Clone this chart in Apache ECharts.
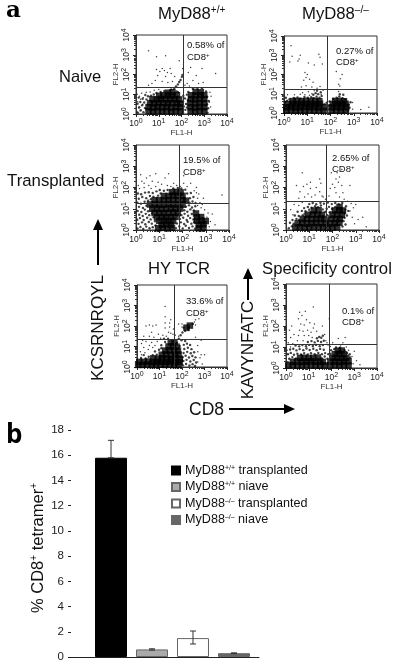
<!DOCTYPE html>
<html>
<head>
<meta charset="utf-8">
<style>html,body{margin:0;background:#fff}#chart{width:416px;height:670px}</style>
<script src="https://cdn.jsdelivr.net/npm/echarts@6/dist/echarts.min.js"></script>
</head>
<body>
<div id="chart"></div>
<script>
// flow panels, every point is [log10 FL1, log10 FL2]
const naiveWtDense = [[.55,.15],[.75,.12],[.95,.16],[1.15,.13],[1.35,.15],[1.55,.12],[1.75,.15],[1.95,.14],[2.4,.15],[2.6,.12],[2.8,.16],[3,.14],[.55,.35],[.75,.33],[.95,.36],[1.15,.34],[1.35,.36],[1.55,.33],[1.75,.35],[1.95,.34],[2.4,.35],[2.6,.33],[2.8,.36],[3,.34],[.62,.55],[.8,.54],[1,.56],[1.2,.55],[1.4,.54],[1.6,.56],[1.8,.55],[1.95,.52],[2.38,.55],[2.6,.54],[2.8,.56],[3,.55],[.72,.75],[.92,.74],[1.1,.76],[1.3,.75],[1.5,.74],[1.7,.76],[1.9,.74],[2.42,.75],[2.6,.74],[2.8,.76],[3,.75],[1.02,.92],[1.2,.95],[1.4,.96],[1.6,.94],[1.8,.95],[2.42,.95],[2.62,.94],[2.82,.96],[3,.95],[1.4,1.08],[1.6,1.1],[2.62,1.12],[2.85,1.1]]
const naiveWtMid = [[.08,.06],[.2,.18],[.33,.09],[.14,.34],[.27,.44],[.39,.3],[.07,.52],[.19,.61],[.36,.58],[.46,.74],[.29,.77],[.12,.83],[.53,.9],[.41,.96],[.66,.93],[.78,.99],[.9,1.06],[1.08,1.12],[1.24,1.16],[1.78,1.14],[1.85,1.1],[2.06,.09],[2.17,.21],[2.1,.38],[2.24,.33],[2.07,.62],[2.2,.51],[2.15,.79],[2.28,.72],[2.08,.93],[2.24,.98],[2.3,1.12],[3.14,.07],[3.17,.29],[3.12,.49],[3.2,.66],[3.13,.87],[3.08,1.14],[2.5,1.28],[2.7,1.26],[2.9,1.3],[1.55,1.24],[1.68,1.29],[1.76,1.4],[1.84,1.5],[1.9,1.62],[1.96,1.72],[2.02,1.88],[2.04,1.98]]
const naiveWtDots = [[.05,.1],[.12,.3],[.22,.2],[.3,.5],[.08,.62],[.2,.75],[.15,.9],[.32,.82],[.05,1],[.25,1.05],[.45,1.1],[.62,1.12],[.8,1.2],[1,1.24],[3.22,.6],[3.28,.35],[3.3,.9],[3.25,1.1],[.7,1.55],[.85,1.7],[.95,1.95],[1.05,2.15],[1.15,2.3],[1.25,2.2],[1.38,2.1],[1.5,2.3],[1.55,2.05],[1.3,1.9],[1.15,1.65],[.9,2.25],[1.4,1.6],[.55,1.45],[2.25,1.55],[2.3,2.1],[2.4,2.35],[2.5,1.7],[2.65,1.95],[2.75,1.55],[2.95,1.6],[3.5,2.05],[2.9,2.3],[.55,3.2],[.9,2.9],[1.3,2.95],[1.9,2.7],[2.05,2.3],[1.7,1.9],[1.6,1.65],[2.15,1.45],[2.35,1.42]]
const naiveKoDense = [[.1,.12],[.3,.14],[.5,.11],[.7,.13],[.9,.12],[1.1,.14],[1.3,.12],[1.5,.13],[1.7,.11],[.1,.3],[.3,.31],[.5,.29],[.7,.3],[.9,.32],[1.1,.3],[1.3,.31],[1.5,.29],[1.72,.3],[.15,.47],[.35,.48],[.55,.46],[.75,.48],[.95,.47],[1.15,.48],[1.35,.46],[1.55,.48],[.38,.62],[.55,.63],[.75,.61],[.95,.63],[1.15,.62],[1.35,.63],[1.52,.61],[2.05,.12],[2.25,.13],[2.45,.11],[2.65,.13],[2.05,.3],[2.25,.31],[2.45,.29],[2.68,.3],[2.1,.47],[2.3,.48],[2.5,.46],[2.65,.48],[2.2,.62],[2.4,.63],[2.58,.61]]
const naiveKoMid = [[.04,.56],[.13,.64],[.24,.72],[.08,.79],[.42,.78],[.58,.81],[.72,.76],[.88,.83],[1.02,.79],[1.17,.82],[1.28,.77],[1.4,.85],[1.53,.79],[1.62,.88],[1.26,.95],[1.36,1.03],[1.47,.98],[1.58,1.08],[1.42,1.16],[1.74,.46],[1.86,.18],[1.93,.38],[1.83,.53],[1.96,.6],[2.12,.74],[2.26,.79],[2.38,.86],[2.52,.77],[2.63,.72],[2.76,.1],[2.82,.27],[2.78,.44],[2.86,.56],[2.4,.98],[2.55,.95]]
const naiveKoDots = [[1.3,1.15],[1.6,.98],[1.2,1],[1.1,.92],[.9,.95],[.7,.98],[.45,.95],[.15,.95],[.8,1.05],[1.05,1.1],[1.68,1.18],[1.42,1.28],[.75,1.35],[.95,1.42],[1.2,1.35],[1.55,1.38],[.85,1.7],[.95,1.85],[1,2],[.9,2.1],[1.1,1.75],[1.25,1.6],[.25,2.65],[.35,2.95],[.6,2.7],[.7,3],[.65,2.8],[1.05,2.6],[1.3,2.5],[1.5,3.05],[1.55,2.9],[.3,3.5],[1.65,2.55],[2.35,1.12],[2.4,1.4],[2.5,2],[2.42,1.78],[2.35,1.5],[2.25,2.15],[2.95,.2],[3.3,.18],[3.65,.3],[2.95,.55]]
const transplantedWtDense = [[.95,.08],[1.15,.1],[1.35,.07],[1.55,.1],[2.7,.08],[2.9,.1],[1.1,.25],[1.3,.27],[1.5,.25],[2.7,.25],[2.9,.27],[1,.43],[1.2,.44],[1.4,.42],[1.6,.43],[2.62,.43],[2.82,.44],[3,.42],[.9,.6],[1.1,.61],[1.3,.59],[1.5,.6],[1.7,.62],[2.62,.6],[2.8,.61],[.8,.8],[1,.81],[1.2,.79],[1.4,.8],[1.6,.82],[1.8,.8],[2.58,.78],[.7,1],[.9,1.01],[1.1,.99],[1.3,1],[1.5,1.02],[1.7,1],[1.9,1.01],[.6,1.2],[.8,1.21],[1,1.19],[1.2,1.2],[1.4,1.22],[1.6,1.2],[1.8,1.21],[2,1.19],[.8,1.4],[1,1.41],[1.2,1.39],[1.4,1.4],[1.6,1.42],[1.8,1.4],[2,1.41],[2.15,1.38],[1.2,1.6],[1.4,1.6],[1.6,1.62],[1.8,1.6],[2,1.61],[1.55,1.78],[1.75,1.79],[1.92,1.77]]
const transplantedWtMid = [[.06,.07],[.19,.14],[.31,.05],[.44,.16],[.58,.08],[.72,.13],[.84,.22],[1.72,.09],[1.86,.17],[2.01,.07],[2.14,.2],[2.28,.1],[2.43,.17],[2.54,.06],[.11,.29],[.26,.36],[.4,.27],[.55,.38],[.68,.3],[.82,.41],[1.76,.31],[1.93,.36],[2.07,.28],[2.22,.39],[2.38,.3],[2.5,.37],[.05,.48],[.17,.56],[.33,.47],[.48,.58],[.63,.5],[.76,.6],[1.89,.52],[2.03,.58],[2.18,.47],[2.33,.56],[2.47,.5],[.14,.72],[.29,.66],[.42,.76],[.57,.7],[.69,.78],[1.95,.7],[2.09,.76],[2.24,.67],[2.4,.75],[.07,.9],[.23,.85],[.38,.96],[.52,.88],[2.08,.93],[2.21,.86],[2.34,.97],[2.49,.92],[.13,1.09],[.3,1.04],[.45,1.14],[2.15,1.1],[2.28,1.16],[2.41,1.06],[2.55,1.12],[.06,1.28],[.21,1.24],[.37,1.33],[.52,1.38],[.64,1.45],[2.3,1.28],[2.43,1.34],[2.56,1.27],[.12,1.47],[.27,1.55],[.44,1.5],[.6,1.6],[.75,1.57],[.95,1.62],[1.06,1.72],[2.32,1.5],[2.47,1.55],[.08,1.72],[.22,1.68],[.39,1.76],[.55,1.78],[.72,1.74],[.88,1.82],[1.02,1.88],[1.2,1.85],[1.36,1.88],[2.2,1.72],[2.36,1.74],[2.12,1.9],[1.6,1.96],[1.8,1.98],[1.95,1.95]]
const transplantedWtDots = [[.15,1.95],[.35,2],[.55,2.1],[.25,2.3],[.45,2.45],[.2,2.6],[.6,2.55],[.7,2.3],[.85,2.05],[.95,2.25],[1.1,2.15],[1.35,2.1],[1.25,2.45],[1.5,2.05],[1.62,2.2],[1.75,2.1],[1.4,2.65],[.85,2.65],[1.9,2.05],[2.05,2.2],[2.2,2.05],[2.35,2.2],[2.5,1.85],[2.6,2],[2.7,1.7],[2.65,1.5],[2.75,1.3],[2.65,1.15],[2.85,1.2],[2.8,1.05],[2.95,.95],[3.1,.8],[3.05,.6],[3.2,.4],[3.15,.15],[3.28,.75],[3.4,.25],[2.9,1.5],[3.7,1.65],[2.05,2.55],[2.6,1.75],[.1,2.1],[.35,2.2],[.65,1.95]]
const transplantedKoDense = [[.4,.12],[.6,.13],[.8,.11],[1,.12],[1.2,.14],[1.4,.12],[1.6,.13],[1.8,.11],[2,.12],[2.2,.14],[.5,.32],[.7,.33],[.9,.31],[1.1,.32],[1.3,.34],[1.5,.32],[1.7,.33],[1.9,.31],[2.1,.32],[2.3,.34],[.72,.52],[.9,.53],[1.1,.51],[1.3,.52],[1.5,.54],[1.65,.52],[1.95,.53],[2.15,.51],[2.32,.52],[.95,.72],[1.15,.73],[1.35,.71],[1.55,.72],[2,.72],[2.2,.73],[2.4,.71],[1.2,.92],[1.4,.93],[2.1,.92],[2.3,.94],[2.45,.92],[2.3,1.08]]
const transplantedKoMid = [[.12,.08],[.25,.17],[.17,.34],[.33,.3],[.28,.47],[.45,.52],[.56,.47],[.38,.68],[.55,.66],[.72,.7],[.8,.77],[.5,.86],[.68,.9],[.84,.88],[1,.95],[.78,1.03],[.94,1.08],[1.1,1.05],[1.25,1.12],[1.38,1.07],[1.5,1.15],[1.58,.97],[1.7,.86],[1.78,.7],[1.82,.54],[1.75,1],[1.88,.83],[1.85,1.09],[1.98,1],[2.12,1.08],[1,1.22],[1.15,1.27],[1.3,1.21],[1.48,1.28],[1.63,1.24],[1.8,1.29],[1.97,1.22],[2.12,1.27],[2.27,1.22],[2.42,1.27],[2.55,.96],[2.58,1.12],[2.53,.78],[2.62,.68],[2.52,.58],[2.48,.42],[2.43,.16],[2.56,.26],[2.68,.9]]
const transplantedKoDots = [[.3,.72],[.2,.95],[.55,1.15],[.35,1.2],[.7,1.3],[.8,1.55],[.55,1.5],[.6,1.8],[.95,1.7],[1.1,1.55],[1.25,1.65],[1.05,1.95],[.9,2.15],[1.05,2.25],[.75,2.05],[.45,2.1],[1.3,2],[1.45,1.8],[1.6,1.55],[1.5,2.2],[1.45,2.4],[1.55,1.6],[.7,2.7],[1.7,1.45],[1.85,1.6],[1.9,1.95],[2,2.15],[2.15,2.4],[2.3,2.5],[2.25,2.25],[2.1,2],[2.15,1.75],[2.3,1.55],[2.45,1.75],[2.4,2.1],[2.5,1.45],[2.65,1.35],[2.8,1.25],[2.9,1.05],[2.75,.9],[2.85,.6],[2.95,.3],[3,1.2],[1.95,2.7],[2.4,2.85],[2.2,2.7],[3.1,.5],[3.45,.15],[3.3,.6],[2.75,2.1]]
const hyTcrDense = [[.05,.1],[.25,.1],[.45,.12],[.65,.09],[.85,.1],[1.05,.11],[1.25,.1],[1.45,.12],[1.65,.09],[1.85,.1],[.1,.25],[.3,.25],[.5,.27],[.7,.24],[.9,.25],[1.1,.26],[1.3,.25],[1.5,.27],[1.7,.24],[1.9,.25],[.72,.42],[.92,.4],[1.12,.42],[1.32,.41],[1.52,.4],[1.72,.42],[1.9,.4],[1.1,.6],[1.3,.61],[1.5,.59],[1.7,.6],[1.85,.61],[1.25,.8],[1.45,.81],[1.65,.79],[1.82,.8],[1.4,1],[1.6,1.01],[1.76,.99],[1.5,1.2],[1.66,1.21],[2.2,1.92],[2.35,2.02]]
const hyTcrMid = [[2.04,.08],[2.18,.15],[2.33,.07],[2.47,.14],[2.58,.05],[2.06,.29],[2.2,.35],[2.37,.27],[2.52,.34],[2.63,.22],[2.03,.48],[2.16,.55],[2.31,.46],[2.46,.54],[2.6,.47],[2.07,.68],[2.23,.74],[2.39,.67],[2.54,.72],[2.1,.88],[2.26,.94],[2.42,.87],[2.08,1.08],[2.22,1.14],[2.36,1.07],[1.98,1.3],[2.14,1.27],[1.25,1.22],[1.08,1.06],[1.2,1.38],[1.38,1.38],[1.78,1.18],[1.9,1.03],[1.86,1.38],[1.94,1.55],[2.02,1.68],[2.14,1.76],[2.28,1.8],[2.08,1.92],[2.48,2.1],[2.3,1.92],[.38,.42],[.52,.5],[.7,.58],[.88,.6],[.8,.76],[.98,.84],[1.08,.92],[.18,.44],[.3,.58]]
const hyTcrDots = [[.2,.6],[.15,.75],[.35,.7],[.5,.85],[.3,.95],[.55,1.05],[.7,.95],[.2,1.15],[.4,1.25],[.65,1.2],[.9,1.25],[.8,1.05],[.3,1.5],[.55,1.5],[.75,1.45],[.95,1.6],[1.05,1.4],[.65,1.7],[.4,2],[.55,2.05],[.7,2],[.85,2.05],[.25,1.3],[1.15,1.55],[1.3,1.5],[1.4,1.7],[1.25,1.9],[1.5,1.65],[1.45,1.95],[1.6,1.6],[1.25,2.15],[1.45,2.15],[1.25,2.45],[1.25,2.95],[1.5,2.3],[1.62,1.85],[1.7,1.55],[1.85,1.5],[2.55,2.2],[2.6,2.3],[2.75,2.35],[2.6,2.05],[2,1.95],[2.7,.75],[2.7,.25],[2.8,.45],[2.85,.6],[2.9,.15],[3,.6],[2.7,1.05],[2.85,1.3],[2.6,1.45],[2,2.1],[1.85,2.1]]
const specCtrlDense = [[.1,.12],[.3,.13],[.5,.11],[.7,.12],[.9,.14],[1.1,.12],[1.3,.13],[1.5,.11],[1.7,.12],[1.95,.12],[2.15,.14],[2.35,.12],[2.55,.13],[2.75,.12],[.3,.3],[.5,.31],[.7,.29],[.9,.3],[1.1,.32],[1.3,.3],[1.5,.31],[1.62,.29],[1.95,.3],[2.15,.31],[2.35,.29],[2.55,.3],[2.75,.32],[.62,.48],[.8,.49],[1,.47],[1.2,.48],[1.4,.5],[2.05,.48],[2.25,.49],[2.45,.47],[2.65,.48],[2.15,.66],[2.35,.67],[2.55,.65],[2.28,.82],[2.45,.83]]
const specCtrlMid = [[.08,.28],[.14,.44],[.28,.52],[.44,.46],[1.56,.48],[1.7,.55],[1.82,.44],[1.82,.2],[.08,.66],[.21,.72],[.35,.63],[.5,.68],[.66,.64],[.8,.71],[.96,.65],[1.1,.7],[1.26,.66],[1.42,.72],[1.58,.66],[1.72,.71],[1.86,.66],[.18,.88],[.32,.92],[.46,.84],[.6,.9],[.76,.85],[.9,.93],[1.04,.86],[1.2,.92],[1.35,.85],[1.5,.91],[1.66,.87],[1.96,.68],[.42,1.07],[.58,1.03],[.72,1.09],[.88,1.04],[1.02,1.1],[1.18,1.05],[1.32,1.1],[1.48,1.04],[1.62,1.09],[.96,1.24],[1.12,1.28],[1.26,1.22],[1.4,1.29],[1.54,1.24],[1.66,1.3],[1.36,1.42],[1.46,1.48],[1.55,1.44],[1.62,1.54],[1.98,.85],[2.12,.9],[2.58,.84],[2.82,.5],[2.8,.66],[2.68,.72],[2.2,.98],[2.38,.98]]
const specCtrlDots = [[.1,.65],[.05,.85],[.2,1],[.1,1.2],[.3,1.15],[.5,1.3],[.75,1.3],[.2,1.45],[.35,1.6],[.15,1.8],[.25,2],[.55,1.55],[.8,1.55],[1,1.55],[1.15,1.45],[.6,1.8],[.75,1.75],[.95,1.8],[1.1,1.7],[.65,2.1],[.8,2.05],[.9,2.3],[.55,2.35],[.7,2.5],[.6,2.65],[.85,2.7],[1.05,2.15],[1.2,1.9],[1.35,1.75],[1.25,2.1],[1.2,2.9],[1.6,2],[1.75,1.3],[1.85,1.1],[1.95,1.02],[2.05,1.2],[2.4,1.1],[2.5,1.2],[2.65,1],[2.75,.85],[2.9,.55],[2.95,.2],[3,.8],[3.1,.35],[3.25,.15],[1.9,2.35],[2.3,1.4],[2.6,1.45],[1.7,1.6],[1.8,1.2]]

const panelDense = [naiveWtDense, naiveKoDense, transplantedWtDense, transplantedKoDense, hyTcrDense, specCtrlDense]
const panelMid = [naiveWtMid, naiveKoMid, transplantedWtMid, transplantedKoMid, hyTcrMid, specCtrlMid]
const panelDots = [naiveWtDots, naiveKoDots, transplantedWtDots, transplantedKoDots, hyTcrDots, specCtrlDots]
const gateX = [2.07, 1.85, 1.85, 1.72, 1.64, 1.89]
const gateY = [1.37, 1.25, 1.27, 1.36, 1.37, 1.14]
const logTicks = [0, 1, 2, 3, 4]

// panel b
const groups = ['MyD88+/+ transplanted', 'MyD88+/+ niave', 'MyD88–/– transplanted', 'MyD88–/– niave']
const groupValues = [15.8, 0.6, 1.5, 0.3]
const errLow = [15.8, 0.55, 1.03, 0.27]
const errHigh = [17.18, 0.65, 2.06, 0.33]
const groupColors = ['#000', '#aaa', '#fff', '#666']

const boxes = [[136, 35, 91, 79], [284, 36, 93, 77], [136, 145, 93, 85], [286, 145, 93, 85], [137, 285, 90, 82], [286, 284, 91, 84]]

const FONT = '"Liberation Sans", Arial, sans-serif'
const INK = '#111'
const chart = echarts.init(document.getElementById('chart'), null, { renderer: 'canvas' })

const minorTicks = []
logTicks.slice(0, 4).forEach(d => {
  for (let k = 2; k < 10; k++) minorTicks.push(d + Math.log10(k))
})

const sup = { b: { fontSize: 8.5, fontFamily: FONT, color: '#222' }, e: { fontSize: 7, fontFamily: FONT, color: '#222', padding: [0, 0, 4, 0] } }

const grids = []
const xAxes = []
const yAxes = []
const series = []

boxes.forEach((b, i) => {
  grids.push({ left: b[0], top: b[1], width: b[2], height: b[3], show: true, borderColor: '#333', borderWidth: 1, backgroundColor: '#fff' })
  const base = {
    gridIndex: i, type: 'value', min: 0, max: 4, interval: 1, splitLine: { show: false },
    axisLine: { lineStyle: { color: '#333' } }
  }
  xAxes.push({
    ...base, position: 'bottom', name: 'FL1-H', nameLocation: 'middle', nameGap: 15,
    nameTextStyle: { fontSize: 8, fontFamily: FONT, color: '#333' },
    axisTick: { length: 3, lineStyle: { color: '#222' } },
    axisLabel: { margin: 4, rich: sup, formatter: v => `{b|10}{e|${v}}` }
  })
  yAxes.push({
    ...base, position: 'left', name: 'FL2-H', nameLocation: 'middle', nameGap: 14,
    nameTextStyle: { fontSize: 8, fontFamily: FONT, color: '#333' },
    axisTick: { length: 3, lineStyle: { color: '#222' } },
    axisLabel: { margin: 4, rotate: 90, rich: sup, formatter: v => `{b|10}{e|${v}}` }
  })
  series.push(
    { type: 'scatter', xAxisIndex: i, yAxisIndex: i, data: panelMid[i], symbolSize: 2.4, itemStyle: { color: '#111' }, silent: true },
    { type: 'scatter', xAxisIndex: i, yAxisIndex: i, data: panelDense[i], symbol: 'rect', symbolSize: 6.5, itemStyle: { color: '#000' }, silent: true },
    {
      type: 'scatter', xAxisIndex: i, yAxisIndex: i, data: panelDots[i], symbolSize: 1.5, itemStyle: { color: '#111' }, silent: true,
      markLine: {
        silent: true, symbol: 'none', label: { show: false }, animation: false,
        lineStyle: { color: '#333', width: 1, type: 'solid' },
        data: [{ xAxis: gateX[i] }, { yAxis: gateY[i] }]
      }
    }
  )
})

// minor decade ticks sit on their own axes so they can be shorter
boxes.forEach((b, i) => {
  const minor = {
    gridIndex: i, type: 'value', min: 0, max: 4, splitLine: { show: false }, axisLabel: { show: false },
    axisLine: { show: false }, axisTick: { length: 2, customValues: minorTicks, lineStyle: { color: '#333' } }
  }
  xAxes.push({ ...minor, position: 'bottom' })
  yAxes.push({ ...minor, position: 'left' })
})

// bar chart grid
const barGrid = boxes.length
const barAxisX = xAxes.length
const barAxisY = yAxes.length
grids.push({ left: 71, top: 430, width: 188, height: 227 })
xAxes.push({
  gridIndex: barGrid, type: 'value', min: 0.024, max: 4.61, position: 'bottom',
  axisLabel: { show: false }, axisTick: { show: false }, splitLine: { show: false },
  axisLine: { onZero: false, lineStyle: { color: '#222' } }
})
yAxes.push({
  gridIndex: barGrid, type: 'value', min: 0, max: 18, interval: 2, position: 'left', splitLine: { show: false },
  axisLine: { show: false }, axisTick: { length: 3, lineStyle: { color: '#222' } },
  axisLabel: { fontSize: 11.5, fontFamily: FONT, color: '#222', margin: 7 }
})

groups.forEach((name, i) => {
  series.push({
    type: 'bar', name, xAxisIndex: barAxisX, yAxisIndex: barAxisY, barWidth: 32, barGap: '-100%',
    data: [[i + 1, groupValues[i]]], silent: true,
    itemStyle: { color: groupColors[i], borderColor: i === 0 ? '#000' : '#666', borderWidth: 1 }
  })
})
series.push({
  type: 'custom', xAxisIndex: barAxisX, yAxisIndex: barAxisY, silent: true, z: 5,
  data: groups.map((g, i) => [i + 1, errLow[i], errHigh[i]]),
  renderItem: (params, api) => {
    const lo = api.coord([api.value(0), api.value(1)])
    const hi = api.coord([api.value(0), api.value(2)])
    const style = { stroke: '#333', lineWidth: 1 }
    return {
      type: 'group',
      children: [
        { type: 'line', shape: { x1: lo[0], y1: lo[1], x2: hi[0], y2: hi[1] }, style },
        { type: 'line', shape: { x1: lo[0] - 3, y1: lo[1], x2: lo[0] + 3, y2: lo[1] }, style },
        { type: 'line', shape: { x1: hi[0] - 3, y1: hi[1], x2: hi[0] + 3, y2: hi[1] }, style }
      ]
    }
  }
})

// text and arrows around the panels
const supRich = size => ({
  t: { fontSize: size, fontFamily: FONT, fill: INK },
  s: { fontSize: Math.round(size * 0.58), fontFamily: FONT, fill: INK, padding: [0, 0, Math.round(size * 0.4), 0] }
})
const txt = (x, y, text, size, rotation = 0, align = 'left') => ({
  type: 'text', x, y, rotation, silent: true,
  style: { text, fontSize: size, fontFamily: FONT, fill: INK, align, verticalAlign: 'middle', rich: supRich(size) }
})
const arrowUp = (x, top, bottom) => [
  { type: 'polygon', silent: true, shape: { points: [[x, top], [x - 5, top + 11], [x + 5, top + 11]] }, style: { fill: '#000' } },
  { type: 'line', silent: true, shape: { x1: x, y1: top + 10, x2: x, y2: bottom }, style: { stroke: '#000', lineWidth: 2 } }
]

const graphic = [
  { type: 'text', x: 6, y: 11, silent: true, style: { text: 'a', fontSize: 23, fontWeight: 'bold', fontFamily: '"DejaVu Serif"', fill: '#000', verticalAlign: 'middle' } },
  { type: 'text', x: 6, y: 436, silent: true, style: { text: 'b', fontSize: 26, fontWeight: 'bold', fontFamily: '"Open Sans"', fill: '#000', verticalAlign: 'middle' } },
  txt(158, 14, '{t|MyD88}{s|+/+}', 16.7),
  txt(302, 14, '{t|MyD88}{s|–/–}', 16.7),
  txt(59, 77, '{t|Naive}', 16.5),
  txt(7, 181, '{t|Transplanted}', 16.8),
  txt(148, 269, '{t|HY TCR}', 16.7),
  txt(262, 269, '{t|Specificity control}', 16.7),
  txt(187, 45, '{t|0.58% of}', 9.5), txt(187, 57, '{t|CD8}{s|+}', 9.5),
  txt(336, 51, '{t|0.27% of}', 9.5), txt(336, 62, '{t|CD8}{s|+}', 9.5),
  txt(183, 160, '{t|19.5% of}', 9.5), txt(183, 172, '{t|CD8}{s|+}', 9.5),
  txt(332, 158, '{t|2.65% of}', 9.5), txt(332, 169, '{t|CD8}{s|+}', 9.5),
  txt(186, 301, '{t|33.6% of}', 9.5), txt(186, 313, '{t|CD8}{s|+}', 9.5),
  txt(342, 311, '{t|0.1% of}', 9.5), txt(342, 322, '{t|CD8}{s|+}', 9.5),
  txt(98, 328, '{t|KCSRNRQYL}', 17, Math.PI / 2, 'center'),
  txt(248, 350, '{t|KAVYNFATC}', 17, Math.PI / 2, 'center'),
  txt(189, 410, '{t|CD8}', 17.5),
  txt(38, 548, '{t|% CD8}{s|+}{t| tetramer}{s|+}', 16.5, Math.PI / 2, 'center'),
  ...arrowUp(98, 219, 265),
  ...arrowUp(248, 268, 300),
  { type: 'polygon', silent: true, shape: { points: [[295, 409], [284, 404], [284, 414]] }, style: { fill: '#000' } },
  { type: 'line', silent: true, shape: { x1: 229, y1: 409, x2: 285, y2: 409 }, style: { stroke: '#000', lineWidth: 2 } }
]

chart.setOption({
  animation: false,
  backgroundColor: '#fff',
  grid: grids,
  xAxis: xAxes,
  yAxis: yAxes,
  graphic,
  legend: {
    data: groups, orient: 'vertical', left: 166, top: 459, itemWidth: 8, itemHeight: 8, itemGap: 3.5,
    icon: 'rect', selectedMode: false,
    formatter: name => {
      const m = name.match(/^MyD88(\S+) (.*)$/)
      return `{t|MyD88}{s|${m[1]}}{t| ${m[2]}}`
    },
    textStyle: {
      rich: {
        t: { fontSize: 12.6, fontFamily: FONT, color: INK },
        s: { fontSize: 7, fontFamily: FONT, color: INK, padding: [0, 0, 5, 0] }
      }
    }
  },
  series
})
</script>
</body>
</html>
